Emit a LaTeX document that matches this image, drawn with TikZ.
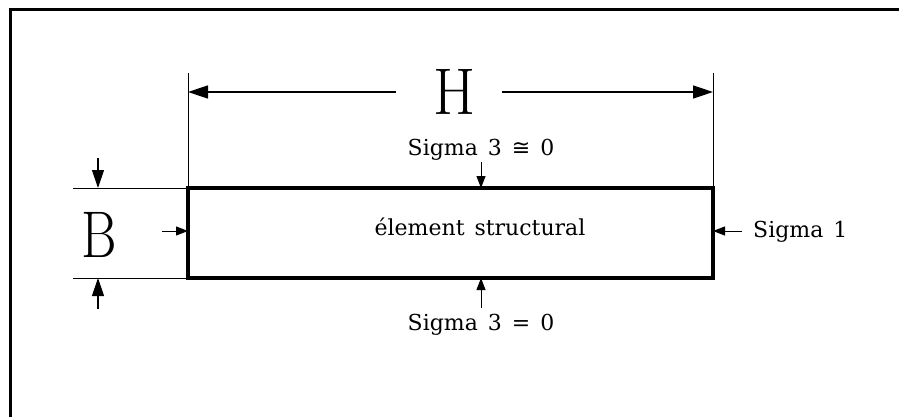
\documentclass[tikz,border=0pt]{standalone}
\usepackage{fontspec}
\newfontfamily\lbl{DejaVu Serif}
\newfontfamily\symf{DejaVu Sans}
\usetikzlibrary{arrows.meta}
\begin{document}
\begin{tikzpicture}[x=1pt,y=-1pt,
  frame/.style={line width=3pt},
  extline/.style={line width=0.9pt},
  dimarrow/.style={line width=1.5pt,-{Triangle[length=20pt,width=13pt]}},
  bigarrow/.style={line width=1.2pt,-{Triangle[length=18pt,width=12pt]}},
  smallarrow/.style={line width=1pt,-{Triangle[length=12pt,width=9pt]}},
  lab/.style={font=\lbl\fontsize{22}{24}\selectfont, inner sep=0pt},
  big/.style={font=\fontsize{66}{66}\selectfont, inner sep=0pt},
  element/.style={draw, line width=4.5pt, minimum width=525pt, minimum height=90pt, inner sep=0pt, outer sep=0pt}]
\useasboundingbox (0,0) rectangle (899,417);
% outer frame (top and left edges)
\coordinate (fBL) at (10,417);
\coordinate (fTL) at (10,9.5);
\coordinate (fTR) at (899,9.5);
\draw[frame] (fBL) -- (fTL) -- (fTR);
% structural element
\node[element] (box) at (450.5,233) {};
\node[lab, anchor=base] (elt) at (480,235) {élement\hspace{10pt}structural};
% H dimension
\coordinate (extL) at (188,73);
\coordinate (extR) at (713,73);
\draw[extline] (box.north west) -- (extL);
\draw[extline] (box.north east) -- (extR);
\node[big, anchor=base] (H) at (455,115) {\scalebox{0.92}[1]{H}};
\coordinate (hL1) at (188,92);
\coordinate (hL2) at (396,92);
\coordinate (hR1) at (502,92);
\coordinate (hR2) at (713,92);
\draw[dimarrow] (hL2) -- (hL1);
\draw[dimarrow] (hR1) -- (hR2);
% B dimension
\coordinate (bT) at (73,188);
\coordinate (bB) at (73,278);
\draw[extline] (box.north west) -- (bT);
\draw[extline] (box.south west) -- (bB);
\node[big, anchor=base] (B) at (99,257) {\scalebox{0.82}[1]{B}};
\coordinate (bTa) at (98,158);
\coordinate (bTb) at (98,188);
\coordinate (bBa) at (98,309);
\coordinate (bBb) at (98,278);
\draw[bigarrow] (bTa) -- (bTb);
\draw[bigarrow] (bBa) -- (bBb);
% loads
\coordinate (lIn) at (162,231);
\coordinate (lBox) at (188,231);
\draw[smallarrow] (lIn) -- (lBox);
\coordinate (rIn) at (742,231);
\coordinate (rBox) at (713,231);
\draw[smallarrow] (rIn) -- (rBox);
\node[lab, anchor=base west] (s1) at (753,237) {Sigma\hspace{10pt}1};
\node[lab, anchor=base] (s3t) at (481,155) {Sigma\hspace{10pt}3\hspace{10pt}{\symf ≅}\hspace{10pt}0};
\node[lab, anchor=base] (s3b) at (481,330) {Sigma\hspace{10pt}3\hspace{10pt}=\hspace{10pt}0};
\coordinate (tTop) at (481,162);
\coordinate (tBox) at (481,188);
\draw[smallarrow] (tTop) -- (tBox);
\coordinate (bBot) at (481,308);
\coordinate (bBox) at (481,278);
\draw[smallarrow] (bBot) -- (bBox);
\end{tikzpicture}
\end{document}
